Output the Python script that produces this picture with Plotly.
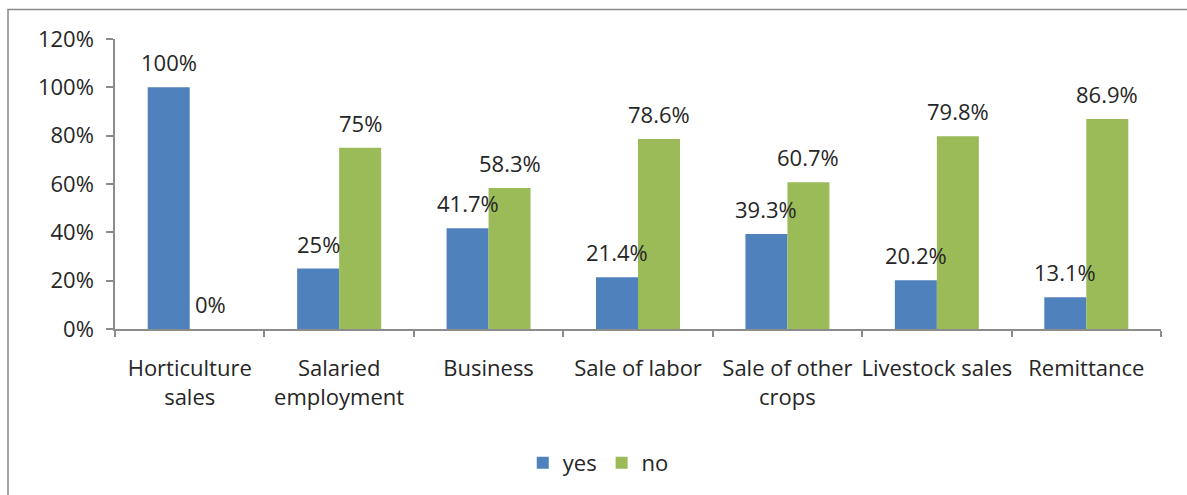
import plotly.graph_objects as go

# Income sources and share of households answering yes / no
categories = [
    "Horticulture<br>sales",
    "Salaried<br>employment",
    "Business",
    "Sale of labor",
    "Sale of other<br>crops",
    "Livestock sales",
    "Remittance",
]
yes_values = [100, 25, 41.7, 21.4, 39.3, 20.2, 13.1]
no_values = [0, 75, 58.3, 78.6, 60.7, 79.8, 86.9]
series_names = ["yes", "no"]
y_ticks = [0, 20, 40, 60, 80, 100, 120]

BLUE = "#4F81BD"
GREEN = "#9BBB59"
TEXT = "#262626"
AXIS = "#8c8c8c"
FONT = "Open Sans"
FS = 22

W, H = 1187, 495
ML, MR, MT, MB = 115, 26, 39, 165
plot_w = W - ML - MR
plot_h = H - MT - MB

fig = go.Figure()
for name, vals, col in [(series_names[0], yes_values, BLUE), (series_names[1], no_values, GREEN)]:
    fig.add_trace(go.Bar(
        name=name, x=categories, y=vals,
        marker=dict(color=col, line=dict(width=0)),
    ))


def fmt(v):
    return f"{v:g}%"


# value labels above each bar
bar_half = plot_w / len(categories) * (1 - 0.438) / 4
annotations = []
for shift, vals in [(-bar_half, yes_values), (bar_half, no_values)]:
    for c, v in zip(categories, vals):
        annotations.append(dict(
            x=c, y=v, xref="x", yref="y", text=fmt(v), showarrow=False,
            xshift=shift, yshift=25, yanchor="middle", xanchor="center",
            font=dict(family=FONT, size=FS, color=TEXT),
        ))

fig.update_layout(
    width=W, height=H,
    margin=dict(l=ML, r=MR, t=MT, b=MB, pad=0),
    paper_bgcolor="white", plot_bgcolor="white",
    barmode="group", bargap=0.438, bargroupgap=0,
    font=dict(family=FONT, size=FS, color=TEXT),
    showlegend=True,
    legend=dict(
        orientation="h", x=0.462, xanchor="center", y=-0.457, yanchor="middle",
        font=dict(family=FONT, size=FS, color=TEXT),
        itemsizing="constant", tracegroupgap=0,
    ),
    annotations=annotations,
    shapes=[dict(
        type="rect", xref="paper", yref="paper",
        x0=(8 - ML) / plot_w, x1=1.3, y0=-1.0, y1=1 + (MT - 9.5) / plot_h,
        line=dict(color="#888888", width=1.5), fillcolor="rgba(0,0,0,0)", layer="below",
    )],
)

fig.update_xaxes(
    showgrid=False, showline=True, linecolor=AXIS, linewidth=1.5,
    ticks="outside", ticklen=6, tickcolor=AXIS, tickwidth=1.5,
    tickson="boundaries", ticklabelstandoff=19, tickangle=0,
    tickfont=dict(family=FONT, size=FS, color=TEXT),
)
fig.update_yaxes(
    range=[0, 120], tickvals=y_ticks, ticktext=[f"{t}%" for t in y_ticks],
    showgrid=False, zeroline=False, showline=True, linecolor=AXIS, linewidth=1.5,
    ticks="outside", ticklen=7, tickcolor=AXIS, tickwidth=1.5,
    ticklabelstandoff=8,
    tickfont=dict(family=FONT, size=FS, color=TEXT),
)

fig.write_html("out.html")
